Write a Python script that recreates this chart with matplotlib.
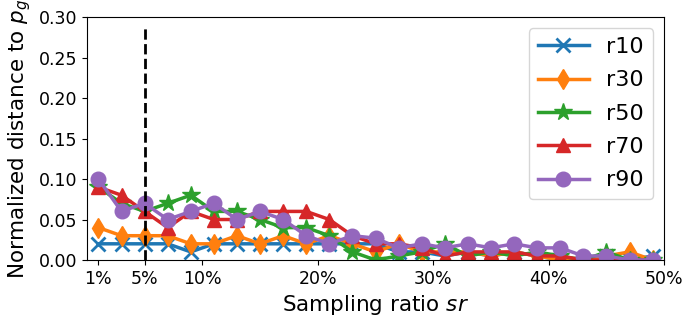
import matplotlib
matplotlib.use("Agg")
import matplotlib.pyplot as plt

ratios = [1, 3, 5, 7, 9, 11, 13, 15, 17, 19, 21, 23, 25, 27, 29, 31, 33, 35, 37, 39, 41, 43, 45, 47, 49]
r10 = [0.02, 0.02, 0.02, 0.02, 0.01, 0.02, 0.02, 0.02, 0.02, 0.02, 0.02, 0.02, 0.02, 0.01, 0.01,
       0.005, 0.01, 0.005, 0.01, 0.005, 0.0, 0.0, 0.005, 0.0, 0.005]
r30 = [0.04, 0.03, 0.03, 0.03, 0.02, 0.02, 0.03, 0.02, 0.03, 0.02, 0.03, 0.02, 0.01, 0.02, 0.01,
       0.01, 0.01, 0.005, 0.01, 0.005, 0.0, 0.0, 0.005, 0.01, 0.0]
r50 = [0.09, 0.07, 0.06, 0.07, 0.08, 0.06, 0.06, 0.05, 0.04, 0.04, 0.03, 0.01, 0.0, 0.005, 0.01,
       0.02, 0.005, 0.01, 0.005, 0.01, 0.005, 0.0, 0.01, 0.0, 0.0]
r70 = [0.09, 0.08, 0.06, 0.04, 0.06, 0.05, 0.05, 0.06, 0.06, 0.06, 0.05, 0.03, 0.02, 0.02, 0.015,
       0.005, 0.01, 0.01, 0.01, 0.005, 0.005, 0.0, 0.0, 0.0, 0.0]
r90 = [0.10, 0.06, 0.07, 0.05, 0.06, 0.07, 0.05, 0.06, 0.05, 0.03, 0.02, 0.03, 0.027, 0.015, 0.02,
       0.015, 0.02, 0.015, 0.02, 0.015, 0.015, 0.005, 0.005, 0.0, 0.0]
series = [("r10", r10, "x"), ("r30", r30, "d"), ("r50", r50, "*"), ("r70", r70, "^"), ("r90", r90, "o")]
xticks = [1, 5, 10, 20, 30, 40, 50]
xticklabels = ["1%", "5%", "10%", "20%", "30%", "40%", "50%"]
yticks = [0.0, 0.05, 0.10, 0.15, 0.20, 0.25, 0.30]
marker_line = 5

fig = plt.figure(figsize=(6.84, 3.21), dpi=100)
ax = fig.add_axes([0.127, 0.19, 0.844, 0.757])
colors = ["#1f77b4", "#ff7f0e", "#2ca02c", "#d62728", "#9467bd"]
for (name, vals, m), c in zip(series, colors):
    ms = 13 if m == "*" else 10.5
    ax.plot(ratios, vals, marker=m, color=c, lw=2.5, ms=ms, label=name,
            mew=2 if m == "x" else 1)
ax.vlines(marker_line, 0, 0.29, colors="black", linestyles="--", lw=2)
ax.set_xlim(0, 50)
ax.set_ylim(0, 0.30)
ax.set_xticks(xticks)
ax.set_xticklabels(xticklabels, fontsize=12.5)
ax.set_yticks(yticks)
ax.set_yticklabels([f"{v:.2f}" for v in yticks], fontsize=12.5)
ax.set_xlabel("Sampling ratio $sr$", fontsize=15.5)
ax.set_ylabel("Normalized distance to $p_g$", fontsize=15.5)
ax.legend(loc="upper right", fontsize=16, handlelength=2.3, labelspacing=0.6)
fig.savefig("out.png", dpi=100)
